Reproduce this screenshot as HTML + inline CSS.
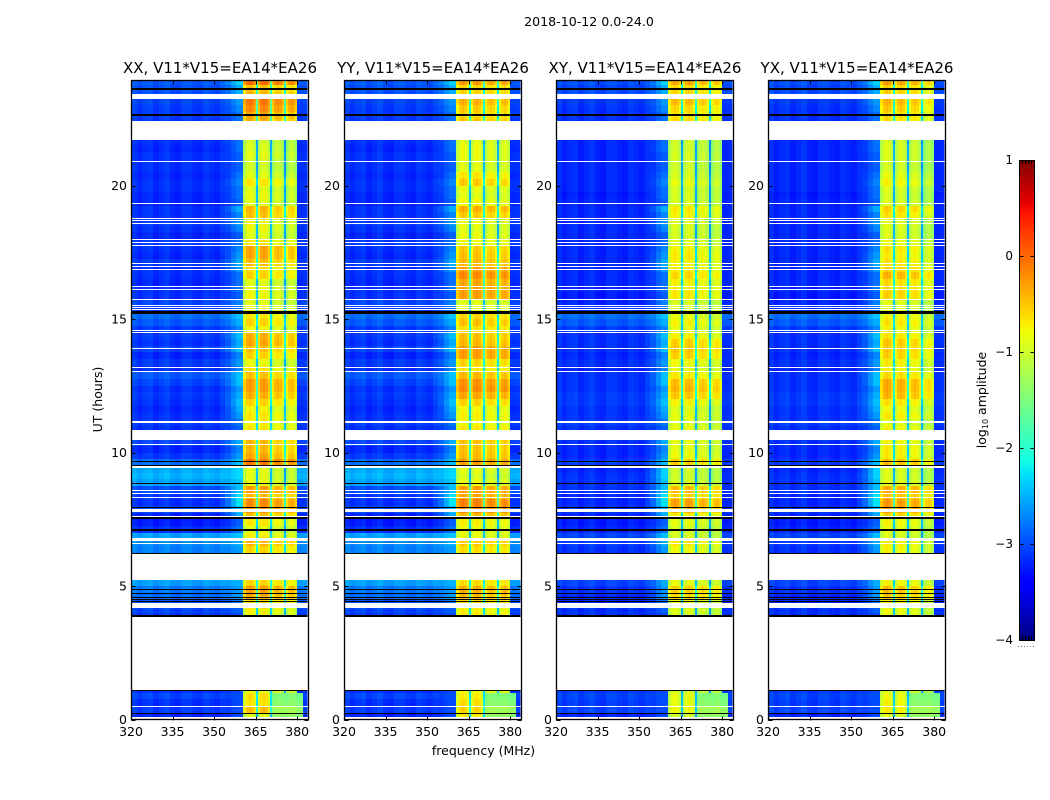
<!DOCTYPE html>
<html lang="en">
<head>
<meta charset="utf-8">
<title>Dynamic spectra 2018-10-12</title>
<style>
html,body{margin:0;padding:0;background:#fff;width:1050px;height:800px;overflow:hidden}
svg{display:block}
text{font-family:"DejaVu Sans","Liberation Sans",sans-serif;fill:#000}
</style>
</head>
<body>
<svg id="chart" xmlns="http://www.w3.org/2000/svg" width="1050" height="800" viewBox="0 0 1050 800">
<text x="589" y="26" font-size="12.6" text-anchor="middle">2018-10-12 0.0-24.0</text>
<text x="483.500" y="755" font-size="12.5" text-anchor="middle">frequency (MHz)</text>
<text transform="translate(102,399.500) rotate(-90)" font-size="12.5" text-anchor="middle">UT (hours)</text>
<text transform="translate(986,400) rotate(-90)" font-size="12.5" text-anchor="middle">log<tspan font-size="8" dy="2">10</tspan><tspan dy="-2"> amplitude</tspan></text>
</svg>
<script>
const n = null;
// Categories
const panelTitles = ['XX, V11*V15=EA14*EA26','YY, V11*V15=EA14*EA26','XY, V11*V15=EA14*EA26','YX, V11*V15=EA14*EA26'];
const xTicks = [320,335,350,365,380];
const yTicks = [0,5,10,15,20];
const colorTicks = [1,0,-1,-2,-3,-4];
const rowHours = 0.25;

// Estimated log10 amplitude of the bright band, one value per 15-minute row (0h upward)
const bandXX = [-.9,-.5,-.7,-.65,-.85,n,n,n,n,n,n,n,n,n,n,-.8,-.75,-.6,-.35,-.3,-.6,n,n,n,n,-.6,-.45,-.75,-.9,-.7,-.5,-.25,-.2,-.45,-.3,-.85,-.9,-.9,-.1,-.35,-.45,-.45,n,-.7,-.75,-.7,-.8,-.6,-.4,-.3,-.3,-.5,-.7,-.85,-.6,-.5,-.35,-.4,-.8,-.6,-.7,-.8,-.9,-.8,-.85,-.9,-.6,-.65,-.5,-.35,-.35,-.7,-.9,-.85,-.8,-.5,-.45,-.9,-.85,-.9,-.7,-.9,-1,-1,-.9,-.95,-1,n,n,-.4,-.35,-.2,-.1,-.4,-.5,-.05];
const bandYY = [-.75,-.6,-.65,-.75,-.8,n,n,n,n,n,n,n,n,n,n,-.7,-.75,-.6,-.45,-.4,-.65,n,n,n,n,-.65,-.55,-.85,-.85,-.75,-.45,-.2,-.15,-.35,-.3,-.85,-.95,-.9,-.3,-.45,-.5,-.5,n,-.7,-.8,-.75,-.8,-.6,-.35,-.2,-.25,-.45,-.7,-.6,-.3,-.3,-.45,-.5,-.65,-.5,-.6,-.85,-.9,-.3,-.3,-.35,-.2,-.3,-.45,-.5,-.55,-.8,-.85,-.9,-.85,-.55,-.4,-.8,-.9,-.85,-.55,-.7,-.9,-.9,-.85,-.85,-.9,n,n,-.5,-.6,-.55,-.4,-.6,-.6,-.3];
const bandXY = [-1,-.8,-.85,-.85,-.95,n,n,n,n,n,n,n,n,n,n,-.95,-.9,-.8,-.6,-.55,-.85,n,n,n,n,-.8,-.7,-.95,-.95,-.85,-.7,-.4,-.3,-.55,-.45,-.95,-1,-1,-.55,-.8,-.85,-.85,n,-.85,-.9,-.85,-.9,-.75,-.5,-.4,-.45,-.7,-.85,-.8,-.55,-.5,-.55,-.75,-.85,-.75,-.85,-.9,-.95,-.7,-.7,-.75,-.6,-.7,-.75,-.7,-.75,-.9,-.95,-.95,-.9,-.75,-.7,-.95,-.95,-.95,-.85,-.95,-1,-1,-.95,-1,-1,n,n,-.6,-.65,-.6,-.45,-.6,-.6,-.35];
const bandYX = [-.95,-.75,-.8,-.85,-.95,n,n,n,n,n,n,n,n,n,n,-.85,-.85,-.75,-.55,-.5,-.8,n,n,n,n,-.8,-.75,-.95,-.9,-.8,-.6,-.35,-.3,-.5,-.4,-.9,-.95,-.95,-.5,-.75,-.75,-.8,n,-.8,-.9,-.75,-.85,-.7,-.45,-.4,-.4,-.65,-.8,-.75,-.6,-.55,-.55,-.7,-.8,-.7,-.8,-.9,-.9,-.6,-.6,-.65,-.45,-.6,-.7,-.75,-.7,-.85,-.95,-.95,-.9,-.7,-.6,-.95,-1,-.95,-.8,-.9,-1,-1,-.95,-.95,-1,n,n,-.65,-.65,-.55,-.45,-.6,-.6,-.35];

// Estimated background level per row: parallel hands (XX, YY) and cross hands (XY, YX)
const backgroundParallel = [-3.2,-3.1,-3.15,-3.05,-3.15,n,n,n,n,n,n,n,n,n,n,-3.1,-3.05,-3,-2.85,-2.8,-2.6,n,n,n,n,-2.75,-2.7,-2.6,-3.15,-3.25,-3.2,-3.05,-3.15,-3.1,-3,-2.6,-2.5,-2.55,-2.85,-3.1,-3.2,-3.05,n,-3.15,-3.1,-3.15,-3.2,-3.15,-3.1,-3.15,-3.05,-2.95,-3.15,-3.1,-3.2,-3.05,-3.15,-3.1,-3.1,-2.95,-2.85,-3.1,-3.05,-3.15,-3.15,-3.2,-3.15,-3.15,-3.1,-3.2,-3.15,-3.1,-3.2,-3.15,-3.1,-3.15,-3.15,-3.2,-3.2,-3.15,-3.15,-3.2,-3.15,-3.15,-3.15,-3.2,-3.15,n,n,-3.1,-3.1,-3.1,-3.05,-3,-3,-2.95];
const backgroundCross = [-3.2,-3.05,-3.1,-3.05,-3.1,n,n,n,n,n,n,n,n,n,n,-3.15,-3.15,-3.2,-3.2,-3.15,-3.05,n,n,n,n,-3.15,-3.1,-3.05,-3.2,-3.25,-3.2,-3.15,-3.2,-3.2,-3.15,-3.15,-3.15,-3.2,-3.1,-3.2,-3.2,-3.15,n,-3.15,-3.1,-3.15,-3.15,-3.1,-3.1,-3.15,-3.15,-3.15,-3.2,-3.15,-3.2,-3.15,-3.15,-3.15,-3.1,-2.95,-2.85,-3.15,-3.2,-3.25,-3.2,-3.2,-3.2,-3.2,-3.2,-3.2,-3.2,-3.2,-3.2,-3.2,-3.2,-3.2,-3.2,-3.2,-3.25,-3.2,-3.2,-3.2,-3.2,-3.2,-3.2,-3.2,-3.2,n,n,-3.15,-3.15,-3.15,-3.1,-3,-3.05,-3];

// Estimated level of the shoulder just below the band, per row
const shoulderLevel = [-3,-3,-3,-3,-3,n,n,n,n,n,n,n,n,n,n,-3,-2.9,-2.8,-2.6,-2.6,-2.5,n,n,n,n,-2.6,-2.5,-2.4,-2.8,-2.9,-2.5,-2.4,-2.2,-2.2,-2.4,-2.4,-2.3,-2.3,-2.4,-2.6,-2.7,-2.5,n,-2.9,-2.8,-2.6,-2.5,-2.4,-2.5,-2.6,-2.4,-2.4,-2.7,-2.6,-2.7,-2.4,-2.5,-2.4,-2.7,-2.5,-2.4,-2.8,-2.7,-2.9,-2.8,-2.8,-2.8,-2.6,-2.5,-2.6,-2.7,-2.8,-2.9,-2.7,-2.6,-2.7,-2.5,-2.9,-2.8,-2.8,-2.7,-2.8,-2.9,-2.9,-2.9,-2.8,-2.8,n,n,-2.8,-2.8,-2.7,-2.6,-2.5,-2.5,-2.3];

// Rows 0-3 where the two upper sub-bands run as a fainter block to 383 MHz
const lowBlockLevel = [-1.35,-1.25,-1.4,-1.45];

// Frequency structure (MHz) and estimated offsets from the row level
const bgFreqs = [320,322,324,326,328,330,332,334,336,338,340,342,344,346,348,350,352,354,356,358,360.5];
const bgOffsets = [.06,-.04,.03,.07,-.05,.02,.08,-.03,-.06,.04,.05,-.02,-.05,.06,.01,-.04,.03,-.03,.02,.05];
const shoulderMix = [0,0,0,0,0,0,0,0,0,0,0,0,0,0,0,0,.1,.35,.65,.95];
const subBandStarts = [360.5,365.8,370.8,376];
const subBandEnds = [365.3,370.3,375.3,380.1];
const subBandProfile = [-.3,-.04,.04,-.04,-.24];
const gapDrop = -1.6;
const tailFreqs = [380.1,382,384];
const tailOffsets = [.0,.02];
const panelBandOffsets = [[.05,.05,-.08,-.14],[.05,.05,-.03,-.03],[.03,.03,-.08,-.14],[.08,.03,-.03,-.22]];

// Flagged time ranges [start hour, end hour]
const whiteFlags = [[0,.1],[.44,.49],[1.1,3.83],[4.19,4.37],[5.23,6.17],[6.55,6.6],[6.69,6.81],[7.59,7.64],[7.78,7.88],[8.3,8.34],[8.43,8.47],[8.55,8.59],[9.44,9.5],[10.25,10.3],[10.47,10.84],[11.12,11.18],[13.01,13.06],[13.14,13.19],[13.88,13.93],[14.46,14.51],[14.54,14.59],[15.33,15.37],[15.42,15.46],[15.5,15.54],[15.72,15.76],[16.09,16.13],[16.19,16.23],[16.83,16.88],[16.96,17],[17.06,17.11],[17.73,17.78],[17.84,17.88],[17.94,17.99],[18.54,18.58],[18.65,18.69],[18.74,18.78],[19.31,19.36],[20.86,20.91],[21.7,22.42],[23.23,23.43]];
const blackFlags = [[.18,.23],[1.07,1.11],[3.83,3.9],[4.39,4.43],[4.46,4.5],[4.56,4.6],[4.71,4.75],[4.83,4.87],[6.17,6.22],[7.06,7.14],[7.5,7.58],[7.93,7.97],[8.8,8.84],[9.51,9.55],[9.63,9.67],[15.19,15.31],[22.6,22.69],[23.58,23.67]];

const panelBands = [bandXX,bandYY,bandXY,bandYX];
const panelBackgrounds = [backgroundParallel,backgroundParallel,backgroundCross,backgroundCross];
const panelLefts = [131,344,556,768];
const panelWidth = 176.5;

const svg = document.getElementById('chart');
const NS = 'http://www.w3.org/2000/svg';

function make(tag, attrs, parent){
  const el = document.createElementNS(NS, tag);
  for (const k in attrs) el.setAttribute(k, attrs[k]);
  parent.appendChild(el);
  return el;
}
function yScale(h){ return 719.5 - 26.7*h; }
function xScale(f, left){ return left + (f-320)*2.77; }
function colorScale(v){ return (v+4)/5; }
function jet(p){
  p = Math.max(0, Math.min(1, p));
  const seg = (pts)=>{
    for (let i=1;i<pts.length;i++){
      if (p<=pts[i][0]) {
        const a=pts[i-1], b=pts[i];
        return a[1]+(b[1]-a[1])*(p-a[0])/(b[0]-a[0]);
      }
    }
    return pts[pts.length-1][1];
  };
  const r = seg([[0,0],[.35,0],[.66,1],[.89,1],[1,.5]]);
  const g = seg([[0,0],[.125,0],[.375,1],[.64,1],[.91,0],[1,0]]);
  const b = seg([[0,.5],[.11,1],[.34,1],[.65,0],[1,0]]);
  return 'rgb('+Math.round(r*255)+','+Math.round(g*255)+','+Math.round(b*255)+')';
}

function drawCell(group, left, f0, f1, r, v){
  const top = Math.round(yScale((r+1)*rowHours));
  const bottom = Math.round(yScale(r*rowHours));
  const x0 = Math.round(xScale(f0,left));
  const x1 = Math.round(xScale(f1,left));
  if (x1<=x0) return;
  const cell = make('rect',{x:x0,y:top,width:x1-x0,height:bottom-top,fill:jet(colorScale(v))},group);
  
  
}

panelTitles.forEach((title,p)=>{
  const left = panelLefts[p];
  const top = yScale(23.95);
  const bottom = yScale(0);
  const clipId = 'clip'+p;
  const clip = make('clipPath',{id:clipId},svg);
  make('rect',{x:left,y:top,width:panelWidth,height:bottom-top},clip);

  const group = make('g',{'clip-path':'url(#'+clipId+')','shape-rendering':'crispEdges'},svg);
  
  

  const bands = panelBands[p];
  const backs = panelBackgrounds[p];
  const offs = panelBandOffsets[p];

  bands.forEach((band,r)=>{
    if (band===null) return;
    const bg = backs[r];
    const sh = shoulderLevel[r];
    bgOffsets.forEach((o,c)=>{
      const base = bg+o;
      const v = base + (Math.max(sh,base)-base)*shoulderMix[c];
      drawCell(group,left,bgFreqs[c],bgFreqs[c+1],r,v);
    });
    subBandStarts.forEach((s,i)=>{
      const e = subBandEnds[i];
      const useLow = r<lowBlockLevel.length && i>=2;
      const step = (e-s)/subBandProfile.length;
      subBandProfile.forEach((o,c)=>{
        const level = useLow ? lowBlockLevel[r]+o*0.3 : band+offs[i]+o;
        drawCell(group,left,s+c*step,s+(c+1)*step,r,level);
      });
      const nextStart = i<3 ? subBandStarts[i+1] : e;
      if (nextStart>e) {
        const gapV = useLow ? lowBlockLevel[r] : band+offs[i]+gapDrop;
        drawCell(group,left,e,nextStart,r,gapV);
      }
    });
    tailOffsets.forEach((o,c)=>{
      const useLow = r<lowBlockLevel.length && c===0;
      drawCell(group,left,tailFreqs[c],tailFreqs[c+1],r,useLow ? lowBlockLevel[r]-.1 : bg+o);
    });
  });

  whiteFlags.forEach(fl=>{
    const y0 = Math.round(yScale(fl[1]));
    const h = Math.max(1,Math.round((fl[1]-fl[0])*26.7));
    const flag = make('rect',{x:left,y:y0,width:panelWidth,height:h,fill:'#fff'},group);
    
    
  });
  blackFlags.forEach(fl=>{
    const y0 = Math.round(yScale(fl[1]));
    const h = Math.max(1,Math.round((fl[1]-fl[0])*26.7));
    const flag = make('rect',{x:left,y:y0,width:panelWidth,height:h,fill:'#000'},group);
    
    
  });

  const frame = make('rect',{x:left+.5,y:Math.round(top)+.5,width:Math.round(panelWidth),height:Math.round(bottom-top),fill:'none',stroke:'#000','stroke-width':1.3},svg);
  
  

  const titleEl = make('text',{x:left+89,y:73,'font-size':15,'text-anchor':'middle'},svg);
  titleEl.textContent = title;
  
  

  xTicks.forEach(t=>{
    const x = Math.round(xScale(t,left))+.5;
    const b = make('path',{d:'M'+x+' '+(Math.round(bottom)+.5)+'v-4M'+x+' '+(Math.round(top)+.5)+'v4',stroke:'#000','stroke-width':1,fill:'none'},svg);
    
    
    const lbl = make('text',{x:xScale(t,left),y:736,'font-size':12.5,'text-anchor':'middle'},svg);
    lbl.textContent = t;
    
    
  });
  yTicks.forEach(t=>{
    const y = Math.round(yScale(t))+.5;
    const b = make('path',{d:'M'+(left+.5)+' '+y+'h4M'+(left+Math.round(panelWidth)+.5)+' '+y+'h-4',stroke:'#000','stroke-width':1,fill:'none'},svg);
    
    
    const lbl = make('text',{x:left-4,y:yScale(t)+4.5,'font-size':12.5,'text-anchor':'end'},svg);
    lbl.textContent = t;
    
    
  });
});

// Colorbar
function cbY(v){ return 640 - (v+4)*96; }
const cbGroup = make('g',{'shape-rendering':'crispEdges'},svg);


for (let i=0;i<240;i++){
  const v0 = -4 + i*5/240;
  const v1 = -4 + (i+1)*5/240;
  const y1 = Math.round(cbY(v0));
  const y0 = Math.round(cbY(v1));
  if (y1<=y0) continue;
  make('rect',{x:1019,y:y0,width:15.5,height:y1-y0,fill:jet(colorScale((v0+v1)/2))},cbGroup);
}
const cbFrame = make('rect',{x:1019.5,y:160.5,width:15,height:480,fill:'none',stroke:'#000','stroke-width':1},svg);


colorTicks.forEach(t=>{
  const y = Math.round(cbY(t))+.5;
  const tk = make('path',{d:'M1019.5 '+y+'h4M1034.5 '+y+'h-4',stroke:'#000','stroke-width':1,fill:'none'},svg);
  
  
  const lbl = make('text',{x:1013,y:cbY(t)+4,'font-size':12,'text-anchor':'end'},svg);
  lbl.textContent = t<0 ? '\u2212'+Math.abs(t) : String(t);
  
  
});
const minorTicks = make('path',{d:'M1022.5 160v4M1025.500 160v4M1028.500 160v4M1031.500 160v4M1022.500 640v-4M1025.500 640v-4M1028.500 640v-4M1031.500 640v-4',stroke:'#000','stroke-width':1,fill:'none'},svg);


const dots = make('path',{d:'M1018 646.5h16',stroke:'#777','stroke-width':1,'stroke-dasharray':'1 2',fill:'none'},svg);


</script>
</body>
</html>
